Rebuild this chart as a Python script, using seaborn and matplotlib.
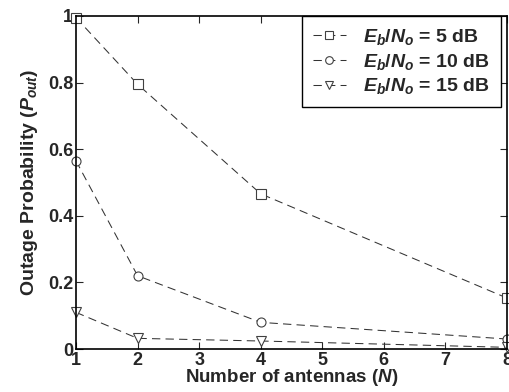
import numpy as np
import pandas as pd
import seaborn as sns
import matplotlib.pyplot as plt

antennas = [1, 2, 4, 8]
p_out_5db = [0.995, 0.795, 0.466, 0.153]
p_out_10db = [0.565, 0.220, 0.080, 0.030]
p_out_15db = [0.110, 0.032, 0.024, 0.005]
labels = [r'$E_b/N_o$ = 5 dB', r'$E_b/N_o$ = 10 dB', r'$E_b/N_o$ = 15 dB']

df = pd.DataFrame({
    'N': antennas * 3,
    'Pout': p_out_5db + p_out_10db + p_out_15db,
    'snr': [labels[0]] * 4 + [labels[1]] * 4 + [labels[2]] * 4,
})

sns.set_style('ticks')
plt.rcParams['font.family'] = ['Liberation Sans', 'DejaVu Sans']
plt.rcParams['font.weight'] = 'bold'
plt.rcParams['mathtext.fontset'] = 'custom'
plt.rcParams['mathtext.it'] = 'Liberation Sans:italic:bold'
plt.rcParams['mathtext.rm'] = 'Liberation Sans:bold'
plt.rcParams['mathtext.bf'] = 'Liberation Sans:bold'

fig = plt.figure(figsize=(5.09, 3.92), dpi=100)
ax = fig.add_axes([76 / 509, 43 / 392, 431 / 509, 333 / 392])

sns.lineplot(data=df, x='N', y='Pout', hue='snr', style='snr',
             palette=['0.2'] * 3, markers=['s', 'o', 'v'],
             dashes=[(8, 5)] * 3, linewidth=0.75, markersize=6.5,
             markerfacecolor='white', markeredgecolor='0.25',
             markeredgewidth=0.8, ax=ax, clip_on=False)

ax.set_xlim(1, 8)
ax.set_ylim(0, 1)
ax.set_xticks(range(1, 9))
ax.set_yticks([0, 0.2, 0.4, 0.6, 0.8, 1])
ax.set_yticklabels(['0', '0.2', '0.4', '0.6', '0.8', '1'])
ax.tick_params(direction='in', length=5, width=0.8, top=True, right=True,
               labelsize=13, pad=2)
for s in ax.spines.values():
    s.set_linewidth(1.2)
    s.set_color('black')

ax.set_xlabel(r'Number of antennas ($N$)', fontsize=13.5, fontweight='bold', labelpad=-1)
ax.set_ylabel(r'Outage Probability ($P_{out}$)', fontsize=14, fontweight='bold', labelpad=6)

handles, lbls = ax.get_legend_handles_labels()
leg = ax.legend(handles, lbls, loc='upper right', bbox_to_anchor=(0.985, 1.0),
                borderaxespad=0, fancybox=False, framealpha=1, edgecolor='black',
                fontsize=14, handlelength=1.7, handletextpad=0.9,
                labelspacing=0.25, borderpad=0.55, markerscale=0.85)
leg.get_frame().set_linewidth(1.0)

fig.savefig('out.png', dpi=100)
